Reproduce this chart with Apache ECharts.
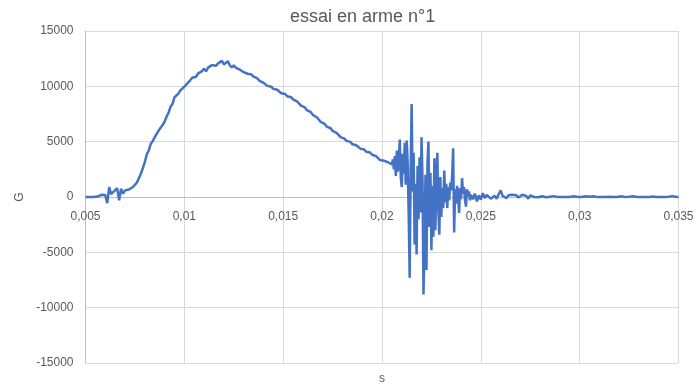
<!DOCTYPE html>
<html>
<head>
<meta charset="utf-8">
<script src="https://cdn.jsdelivr.net/npm/echarts@6/dist/echarts.min.js"></script>
<style>
  html, body { margin: 0; padding: 0; background: #ffffff; }
  #chart { width: 695px; height: 385px; }
</style>
</head>
<body>
<div id="chart"></div>
<script>
// Acceleration record (G) against time (s), in three sampled segments.

// Main pulse: 0.005 s to 0.0204 s, one sample every 0.0001 s
const pulseStart = 0.005;
const pulseStep = 0.0001;
const pulseG = [
  0, 0, 0, 0, 0, 10, 40, 100, 200, 320,
  180, -550, 900, 250, 450, 350, 800, -300, 750, 300,
  600, 520, 680, 720, 900, 1050, 1300, 1700, 2100, 2600,
  3150, 3850, 4200, 4800, 5050, 5400, 5700, 6000, 6100, 6500,
  6800, 7250, 7600, 8150, 8400, 9000, 8950, 9350, 9630, 9580,
  9960, 9800, 10350, 10350, 10770, 10600, 10870, 11170, 10990, 11380,
  11600, 11360, 11690, 11520, 11920, 12100, 11850, 12060, 11900, 12300,
  11980, 12130, 12280, 11910, 11700, 11900, 11690, 11850, 11520, 11540,
  11280, 11340, 11140, 11120, 11070, 10870, 10700, 10710, 10500, 10330,
  10330, 10240, 10040, 10020, 9970, 9770, 9670, 9690, 9550, 9380,
  9400, 9310, 9110, 9080, 9020, 8820, 8670, 8650, 8460, 8260,
  8230, 8090, 7840, 7770, 7670, 7420, 7250, 7210, 7000, 6780,
  6730, 6600, 6360, 6300, 6210, 5970, 5820, 5800, 5610, 5410,
  5380, 5280, 5070, 5040, 4980, 4770, 4660, 4680, 4530, 4370,
  4380, 4290, 4090, 4070, 4020, 3820, 3690, 3690, 3520, 3340,
  3330, 3280, 3120, 3140, 3120
];

// Impact burst: 0.0205 s to 0.02445 s, one sample every 0.00005 s
const burstStart = 0.0205;
const burstStep = 0.00005;
const burstG = [
  2950, 3400, 2500, 3700, 1900, 4200, 2300, 3500, 5200, 1800,
  900, 3900, 2100, 4900, 1100, 5100, 3000, -1500, -7300, 2500,
  8400, 500, 4000, -4300, 1200, -5200, 2800, -2000, 3600, -1400,
  5400, 1500, -8800, -3900, 2000, -6600, 3000, 5000, -2700, 2200,
  -4800, 1000, -3600, 3500, -3000, 1500, 4000, -1200, -3400, 1800,
  -1800, 800, -1000, 2400, -500, 1200, -1000, 900, -300, 1300,
  600, 2000, 4400, -3200, 700, -600, 1000, 200, -1450, 800,
  -200, 1700, 300, 900, -300, -870, 700, 100, 500, -300
];

// Settling tail: 0.0245 s to 0.035 s, one sample every 0.0001 s
const tailStart = 0.0245;
const tailStep = 0.0001;
const tailG = [
  200, -200, 300, -400, 150, -250, 350, -100, 200, 350,
  -150, -300, 100, -150, 250, 600, 100, 250, -100, 150,
  100, 200, 50, 150, -50, 100, 200, 350, 100, -150,
  150, 60, 0, 40, -30, 20, 60, 0, -20, 10,
  30, 0, 80, 0, -10, 20, 0, 70, 0, 10,
  0, -20, 60, 0, 10, 80, 0, 0, 60, 0,
  20, 0, 70, 0, -10, 10, 0, 50, 0, 0,
  20, 70, 0, 0, 10, 0, 60, 0, -10, 0,
  20, 0, 60, 0, 0, 10, 0, 70, 0, 0,
  -10, 0, 50, 0, 10, 0, 0, 60, 0, 0,
  20, 0, 80, 0, 0, 0
];

// Axis ranges and ticks
const xTicks = { min: 0.005, max: 0.035, step: 0.005 };
const yTicks = { min: -15000, max: 15000, step: 5000 };

function segment(start, step, values) {
  return values.map((g, i) => [+(start + i * step).toFixed(6), g]);
}

const points = []
  .concat(segment(pulseStart, pulseStep, pulseG))
  .concat(segment(burstStart, burstStep, burstG))
  .concat(segment(tailStart, tailStep, tailG));

const textColor = '#595959';
const gridColor = '#d9d9d9';
const font = '"Liberation Sans", Arial, sans-serif';

// Plot box in pixels; the time axis sits on the G = 0 line
const plot = { left: 85.5, right: 16.5, top: 31, bottom: 22 };
const plotHeight = 385 - plot.top - plot.bottom;
const zeroFromBottom = plotHeight * (0 - yTicks.min) / (yTicks.max - yTicks.min);

const chart = echarts.init(document.getElementById('chart'), null, { renderer: 'canvas' });
chart.setOption({
  animation: false,
  backgroundColor: '#ffffff',
  title: {
    text: 'essai en arme n°1',
    left: 285,
    top: 3,
    textStyle: { color: textColor, fontSize: 18, fontWeight: 'normal', fontFamily: font }
  },
  grid: {
    left: plot.left, right: plot.right, top: plot.top, bottom: plot.bottom,
    containLabel: false,
    outerBoundsMode: 'none'
  },
  xAxis: {
    type: 'value',
    min: xTicks.min,
    max: xTicks.max,
    interval: xTicks.step,
    offset: -zeroFromBottom,
    name: 's',
    nameLocation: 'middle',
    nameGap: 176,
    nameTextStyle: { color: textColor, fontSize: 12, fontFamily: font },
    axisLine: { onZero: false, lineStyle: { color: '#bfbfbf', width: 1 } },
    axisTick: { show: false },
    axisLabel: {
      color: textColor,
      fontSize: 12,
      fontFamily: font,
      margin: 14,
      formatter: v => String(parseFloat(v.toFixed(4))).replace('.', ',')
    },
    splitLine: { show: true, lineStyle: { color: gridColor, width: 1 } }
  },
  yAxis: {
    type: 'value',
    min: yTicks.min,
    max: yTicks.max,
    interval: yTicks.step,
    name: 'G',
    nameLocation: 'middle',
    nameGap: 60,
    nameRotate: 90,
    nameTextStyle: { color: textColor, fontSize: 12, fontFamily: font },
    axisLine: { show: true, lineStyle: { color: '#bfbfbf', width: 1 } },
    axisTick: { show: false },
    axisLabel: {
      color: textColor, fontSize: 12, fontFamily: font, margin: 12,
      formatter: v => String(v)
    },
    splitLine: { show: true, lineStyle: { color: gridColor, width: 1 } }
  },
  series: [{
    type: 'line',
    data: points,
    showSymbol: false,
    symbol: 'none',
    sampling: null,
    lineStyle: { color: '#4472c4', width: 2.5 },
    z: 3
  }]
});
</script>
</body>
</html>
